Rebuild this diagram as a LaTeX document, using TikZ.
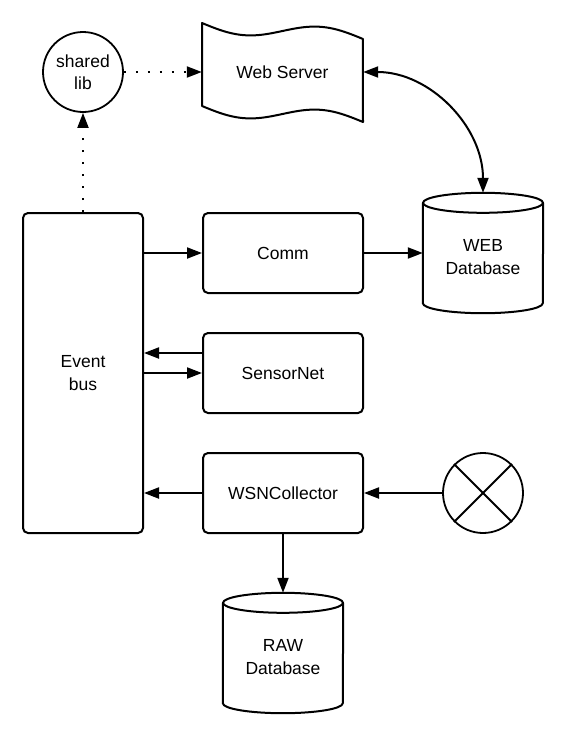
\documentclass[tikz,border=0pt]{standalone}
\usepackage{fontspec}
\setmainfont{Liberation Sans}
\usetikzlibrary{arrows.meta,calc}
\begin{document}
\begin{tikzpicture}[x=1pt,y=-1pt,
  every node/.style={font=\fontsize{17.5}{22.5}\selectfont, align=center, inner sep=0pt},
  box/.style={draw, line width=2pt, rounded corners=5pt, minimum width=160pt, minimum height=80pt},
  ghost/.style={rectangle, minimum width=120pt, minimum height=120pt},
  ln/.style={line width=2pt, line join=round},
  circ/.style={draw, circle, line width=1.8pt, minimum size=80pt},
  tip/.style={-{Triangle[length=15pt,width=11pt]}},
  arr/.style={line width=2pt, tip},
  dotarr/.style={line width=2pt, dash pattern=on 2pt off 10pt, tip}]
\useasboundingbox (0,0) rectangle (568,740);

% nodes
\node[circ] (sl) at (83,72) {shared\\lib};
\node[rectangle, minimum width=161pt, minimum height=100pt] (ws) at (282.5,72) {Web Server};
\draw[ln] plot[domain=0:1, samples=60, variable=\u] ({202+161*\u},{23+16*\u+8*sin(360*\u)})
  -- plot[domain=1:0, samples=60, variable=\u] ({202+161*\u},{106+16*\u+8*sin(360*\u)}) -- cycle;

\node[box, minimum width=120pt, minimum height=320pt] (eb) at (83,373) {Event\\bus};
\node[box] (comm) at (283,253) {Comm};
\node[box] (sn) at (283,373) {SensorNet};
\node[box] (wsn) at (283,493) {WSNCollector};

% WEB database cylinder
\node[ghost] (webdb) at (483,253) {};
\draw[ln] ($(webdb.north)+(0,10)$) ellipse[x radius=60pt, y radius=10pt];
\draw[ln] ($(webdb.north west)+(0,10)$) -- ($(webdb.south west)+(0,-10)$)
  arc[start angle=180, end angle=360, x radius=60pt, y radius=10pt]
  -- ($(webdb.north east)+(0,10)$);
\node (webdbtxt) at ($(webdb)+(0,4)$) {WEB\\Database};

% RAW database cylinder
\node[ghost] (raw) at (283,653) {};
\draw[ln] ($(raw.north)+(0,10)$) ellipse[x radius=60pt, y radius=10pt];
\draw[ln] ($(raw.north west)+(0,10)$) -- ($(raw.south west)+(0,-10)$)
  arc[start angle=180, end angle=360, x radius=60pt, y radius=10pt]
  -- ($(raw.north east)+(0,10)$);
\node (rawtxt) at ($(raw)+(0,4)$) {RAW\\Database};

% crossed circle
\node[circ] (xc) at (483,493) {};
\draw[line width=1.8pt] (xc.north west) -- (xc.south east);
\draw[line width=1.8pt] (xc.north east) -- (xc.south west);

% connectors
\draw[dotarr] (sl.east) -- (sl.east -| ws.west);
\draw[dotarr] (eb.north) -- (sl.south);
\draw[line width=2pt, {Triangle[length=15pt,width=11pt]}-{Triangle[length=15pt,width=11pt]}]
  (ws.east) to[out=0, in=90] (webdb.north);
\draw[arr] (eb.east |- comm.west) -- (comm.west);
\draw[arr] (comm.east) -- (webdb.west);
\coordinate (snup) at ($(sn.west)+(0,-20)$);
\draw[arr] (snup) -- (snup -| eb.east);
\draw[arr] (eb.east |- sn.west) -- (sn.west);
\draw[arr] (wsn.west) -- (wsn.west -| eb.east);
\draw[arr] (xc.west) -- (wsn.east);
\draw[arr] (wsn.south) -- (raw.north);
\end{tikzpicture}
\end{document}
